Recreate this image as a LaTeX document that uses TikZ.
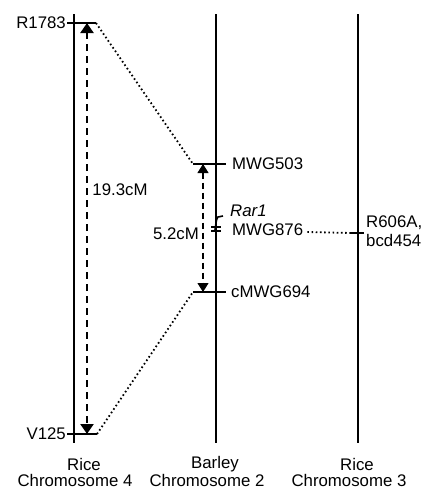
\documentclass[tikz,border=0pt]{standalone}
\usepackage{fontspec}
\setmainfont{Liberation Sans}
\usetikzlibrary{arrows.meta}
\begin{document}
\begin{tikzpicture}[x=1pt,y=-1pt,
  chrom/.style={line width=2.3pt},
  tick/.style={line width=2pt},
  dots/.style={line width=1.8pt,dash pattern=on 1.6pt off 2.6pt},
  bigdash/.style={line width=2.2pt,dash pattern=on 7pt off 5pt,{Triangle[length=10pt,width=13pt]}-{Triangle[length=10pt,width=13pt]}},
  smalldash/.style={line width=1.1pt,dash pattern=on 6pt off 4pt,{Triangle[length=9pt,width=11pt]}-{Triangle[length=9pt,width=11pt]}},
  lbl/.style={font=\fontsize{16.8}{19}\selectfont,inner sep=0pt}]
\useasboundingbox (0,0) rectangle (423,490);
% chromosomes
\coordinate (c4t) at (74,14); \coordinate (c4b) at (74,443);
\coordinate (c2t) at (216,14); \coordinate (c2b) at (216,443);
\coordinate (c3t) at (358,14); \coordinate (c3b) at (358,443);
\draw[chrom] (c4t) -- (c4b);
\draw[chrom] (c2t) -- (c2b);
\draw[chrom] (c3t) -- (c3b);
% rice chr 4 markers
\coordinate (r1l) at (67,23); \coordinate (r1r) at (96,23);
\coordinate (v1l) at (67,434); \coordinate (v1r) at (97,434);
\draw[tick] (r1l) -- (r1r);
\draw[tick] (v1l) -- (v1r);
\node[lbl,anchor=east] (R1783) at (66,23) {R1783};
\node[lbl,anchor=east] (V125) at (66,434) {V125};
\coordinate (a1t) at (87,23); \coordinate (a1b) at (87,434);
\draw[bigdash] (a1t) -- (a1b);
\node[lbl] (d193) at (120,190) {19.3cM};
% barley markers
\coordinate (m5l) at (193,164); \coordinate (m5r) at (226,164);
\coordinate (m6l) at (193,292); \coordinate (m6r) at (226,292);
\draw[tick] (m5l) -- (m5r);
\draw[tick] (m6l) -- (m6r);
\node[lbl,anchor=west] (MWG503) at (232,164) {MWG503};
\node[lbl,anchor=west] (cMWG694) at (231,292) {cMWG694};
\coordinate (a2t) at (203,164); \coordinate (a2b) at (203,292);
\draw[smalldash] (a2t) -- (a2b);
\node[lbl] (d52) at (176,234) {5.2cM};
% MWG876 / Rar1
\draw[line width=1.5pt] (211,227) -- (221,227);
\draw[line width=1.5pt] (211,231) -- (221,231);
\draw[line width=1.6pt] (215,230) .. controls (216,224) and (216,219) .. (218,217) -- (223,216);
\node[lbl,anchor=west,font=\fontsize{16.8}{19}\selectfont\itshape] (Rar1) at (230,211) {Rar1};
\node[lbl,anchor=west] (MWG876) at (232,230) {MWG876};
% rice chr 3
\coordinate (r6l) at (351,233); \coordinate (r6r) at (364,233);
\draw[tick] (r6l) -- (r6r);
\node[lbl,anchor=west] (R606A) at (366,223) {R606A,};
\node[lbl,anchor=west] (bcd454) at (366,240) {bcd454};
% dotted connectors
\draw[dots] (r1r) -- (m5l);
\draw[dots] (v1r) -- (m6l);
\draw[dots] ([xshift=4pt]MWG876.east |- 0,232) -- (r6l);
% bottom labels
\node[lbl] (rice4) at (84,464) {Rice};
\node[lbl] (chr4) at (75,480.5) {Chromosome 4};
\node[lbl] (barley) at (215,464) {Barley};
\node[lbl] (chr2) at (207,480.5) {Chromosome 2};
\node[lbl] (rice3) at (357,464) {Rice};
\node[lbl] (chr3) at (349,480.5) {Chromosome 3};
\end{tikzpicture}
\end{document}
